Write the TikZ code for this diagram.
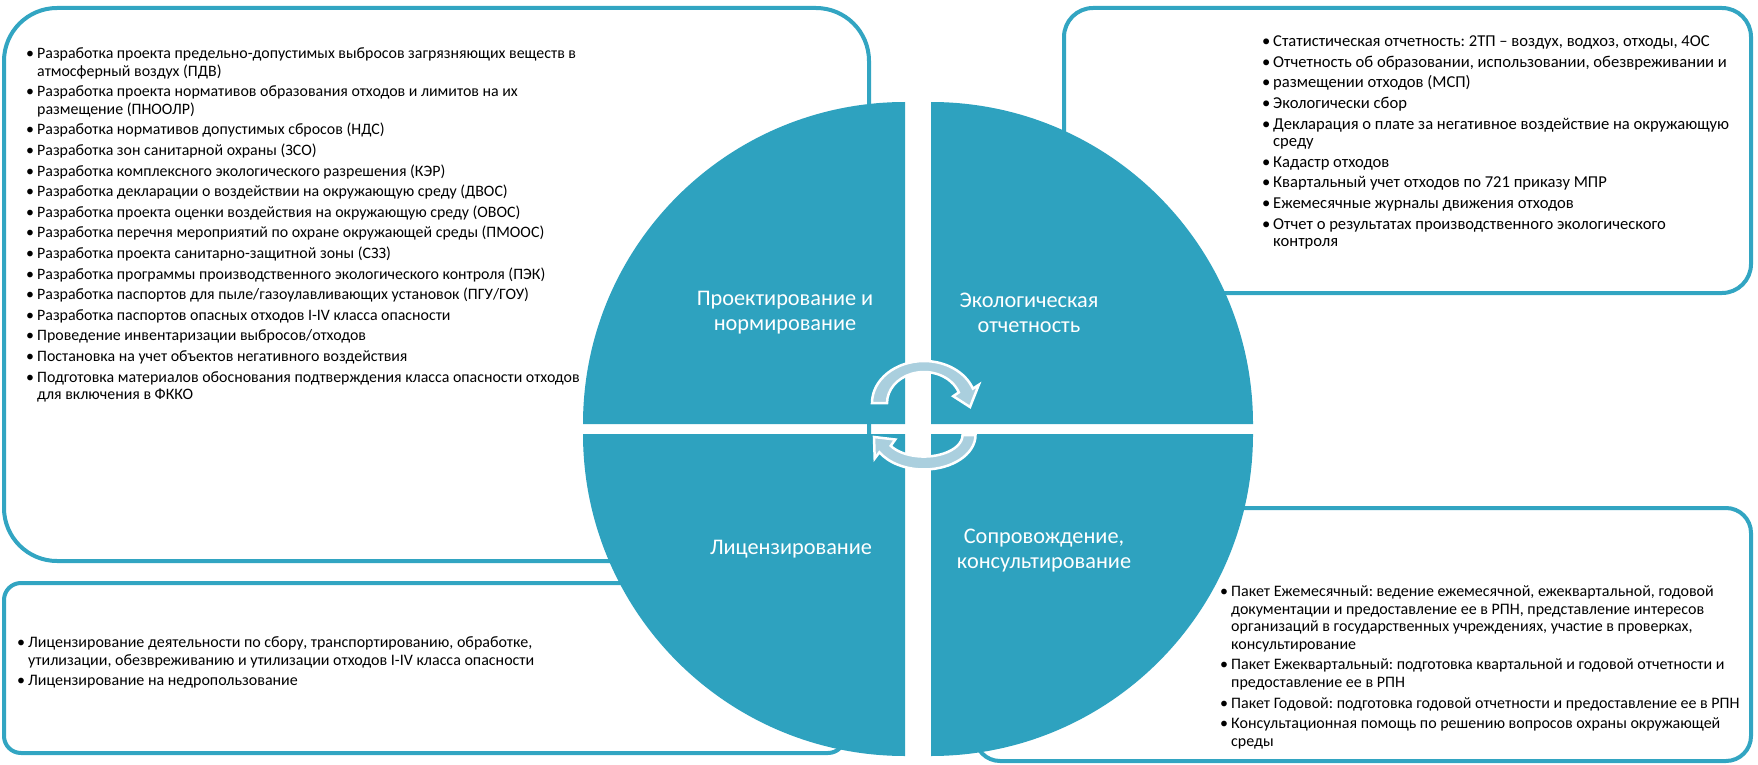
\documentclass[tikz,border=0pt]{standalone}
\usepackage{fontspec}
\setmainfont{Carlito}
\definecolor{tealfill}{RGB}{46,162,191}
\definecolor{tealline}{RGB}{50,165,194}
\definecolor{arrowfill}{RGB}{170,207,222}
\newcommand\itm[1]{\par\hangindent=11pt\hangafter=1\noindent\makebox[11pt][l]{•}#1}
\newcommand\boxtext[3]{\parbox[t]{#1}{\frenchspacing\fontsize{#2}{17.6}\selectfont\setlength\parskip{3pt}\setlength\parindent{0pt}#3}}
\tikzset{
  outerbox/.style={draw=tealline, line width=4pt, fill=white},
  quadrant/.style={fill=tealfill},
  qlabel/.style={text=white, align=center, inner sep=0pt, font=\fontsize{22.3}{25}\selectfont},
  listtext/.style={anchor=base west, inner sep=0pt, text=black},
  cyclearrow/.style={fill=arrowfill, draw=white, line width=2.5pt, line join=miter}
}
\begin{document}
\begin{tikzpicture}[x=1pt,y=1pt]
\useasboundingbox (0,0) rectangle (1758,-765);
% outer boxes
\draw[outerbox, rounded corners=53pt] (4,-8) rectangle (869,-561);
\draw[outerbox, rounded corners=29pt] (1064,-8) rectangle (1751,-293);
\draw[outerbox, rounded corners=17pt] (4,-583) rectangle (845,-753);
\draw[outerbox, rounded corners=25pt] (975,-508) rectangle (1751,-761);
% quadrants
\fill[quadrant] (905,-424) -- (583,-424) arc[start angle=180, end angle=90, radius=322pt] -- cycle;
\fill[quadrant] (931,-424) -- (931,-102) arc[start angle=90, end angle=0, radius=322pt] -- cycle;
\fill[quadrant] (905,-434) -- (583,-434) arc[start angle=180, end angle=270, radius=322pt] -- cycle;
\fill[quadrant] (931,-434) -- (1253,-434) arc[start angle=0, end angle=-90, radius=322pt] -- cycle;
% cycle arrows
\draw[cyclearrow] (872,-403) arc[start angle=180, end angle=20, x radius=52pt, y radius=42pt]
  -- (978.8,-384.8) -- (970,-407) -- (953.2,-396.2) -- (958.8,-392.4)
  arc[start angle=20, end angle=180, x radius=37pt, y radius=31pt] -- cycle;
\draw[cyclearrow] (975.5,-435) arc[start angle=0, end angle=-150, x radius=51.5pt, y radius=34.5pt]
  -- (874.7,-458.5) -- (874,-437) -- (895.3,-439.5) -- (890.7,-445.8)
  arc[start angle=-150, end angle=0, x radius=38.5pt, y radius=21.5pt] -- cycle;
% quadrant labels
\node[qlabel] (lproj) at (785,-312.5) {Проектирование и\\нормирование};
\node[qlabel] (leco) at (1029,-312.5) {Экологическая\\отчетность};
\node[qlabel] (llic) at (791,-549) {Лицензирование};
\node[qlabel] (lsup) at (1044,-550.5) {Сопровождение,\\консультирование};
% list texts
\node[listtext] (tproj) at (26,-58.5) {\boxtext{600pt}{15.9}{%
\itm{Разработка проекта предельно-допустимых выбросов загрязняющих веществ в\newline атмосферный воздух (ПДВ)}
\itm{Разработка проекта нормативов образования отходов и лимитов на их\newline размещение (ПНООЛР)}
\itm{Разработка нормативов допустимых сбросов (НДС)}
\itm{Разработка зон санитарной охраны (ЗСО)}
\itm{Разработка комплексного экологического разрешения (КЭР)}
\itm{Разработка декларации о воздействии на окружающую среду (ДВОС)}
\itm{Разработка проекта оценки воздействия на окружающую среду (ОВОС)}
\itm{Разработка перечня мероприятий по охране окружающей среды (ПМООС)}
\itm{Разработка проекта санитарно-защитной зоны (СЗЗ)}
\itm{Разработка программы производственного экологического контроля (ПЭК)}
\itm{Разработка паспортов для пыле/газоулавливающих установок (ПГУ/ГОУ)}
\itm{Разработка паспортов опасных отходов I-IV класса опасности}
\itm{Проведение инвентаризации выбросов/отходов}
\itm{Постановка на учет объектов негативного воздействия}
\itm{Подготовка материалов обоснования подтверждения класса опасности отходов\newline для включения в ФККО}}};
\node[listtext] (teco) at (1262,-46.8) {\boxtext{480pt}{16.6}{%
\itm{Статистическая отчетность: 2ТП – воздух, водхоз, отходы, 4ОС}
\itm{Отчетность об образовании, использовании, обезвреживании и}
\itm{размещении отходов (МСП)}
\itm{Экологически сбор}
\itm{Декларация о плате за негативное воздействие на окружающую\newline среду}
\itm{Кадастр отходов}
\itm{Квартальный учет отходов по 721 приказу МПР}
\itm{Ежемесячные журналы движения отходов}
\itm{Отчет о результатах производственного экологического\newline контроля}}};
\node[listtext] (tlic) at (17,-647.5) {\boxtext{600pt}{16}{%
\itm{Лицензирование деятельности по сбору, транспортированию, обработке,\newline утилизации, обезвреживанию и утилизации отходов I-IV класса опасности}
\itm{Лицензирование на недропользование}}};
\node[listtext] (tsup) at (1220,-596.5) {\boxtext{540pt}{16}{%
\itm{Пакет Ежемесячный: ведение ежемесячной, ежеквартальной, годовой\newline документации и предоставление ее в РПН, представление интересов\newline организаций в государственных учреждениях, участие в проверках,\newline консультирование}
\itm{Пакет Ежеквартальный: подготовка квартальной и годовой отчетности и\newline предоставление ее в РПН}
\itm{Пакет Годовой: подготовка годовой отчетности и предоставление ее в РПН}
\itm{Консультационная помощь по решению вопросов охраны окружающей\newline среды}}};
\end{tikzpicture}
\end{document}
